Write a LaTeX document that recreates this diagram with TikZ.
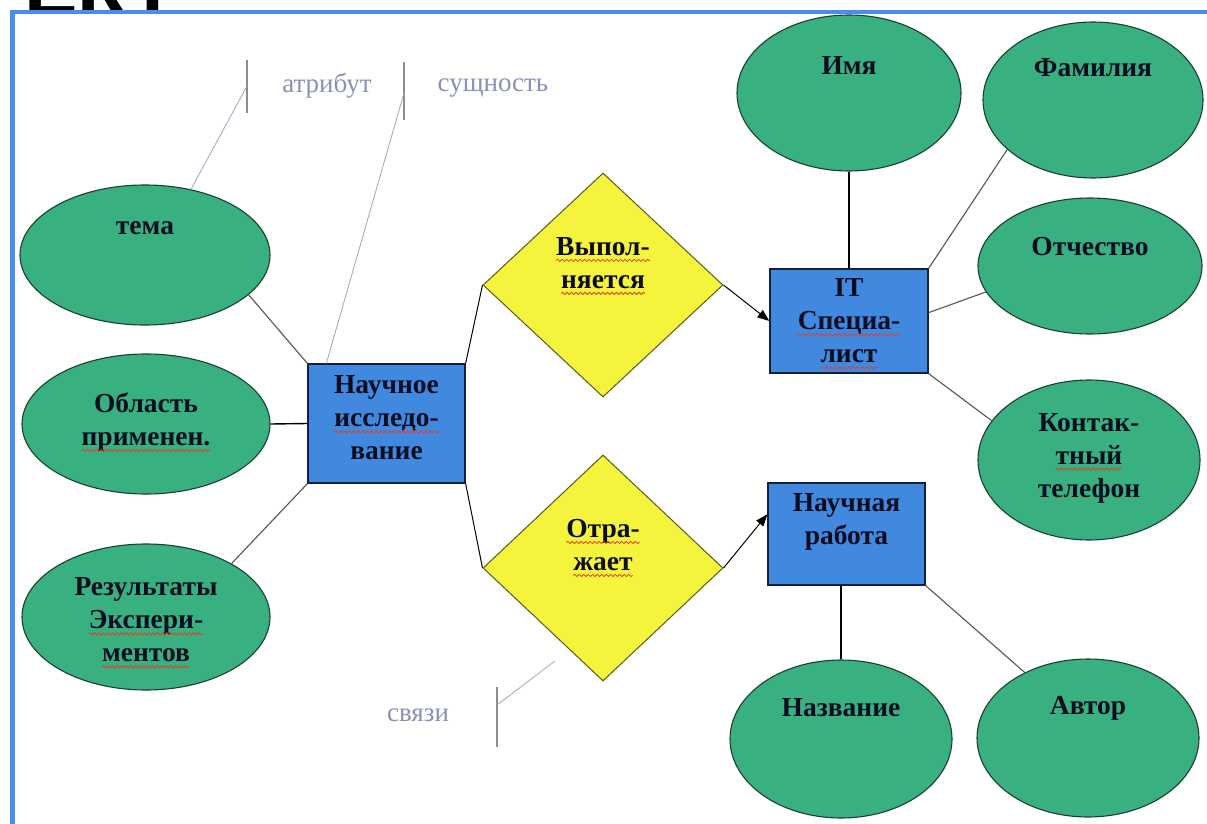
\documentclass[tikz,border=0pt]{standalone}
\usepackage{fontspec}
\setmainfont{Liberation Serif}
\newfontfamily\headfont{Liberation Sans}
\usetikzlibrary{shapes.geometric,arrows.meta,calc,decorations.pathmorphing}

\definecolor{attrgreen}{HTML}{38B080}
\definecolor{attrline}{HTML}{1C3F30}
\definecolor{entblue}{HTML}{4189DF}
\definecolor{entline}{HTML}{15203A}
\definecolor{relyellow}{HTML}{F4F43C}
\definecolor{relline}{HTML}{5A5A20}
\definecolor{txtdark}{HTML}{0D0D22}
\definecolor{framebl}{HTML}{4A8CF0}
\definecolor{linkgray}{HTML}{555555}
\definecolor{notecol}{HTML}{8A90B8}
\definecolor{leadcol}{HTML}{A0A6C4}
\definecolor{bargray}{HTML}{8C8C8C}
\definecolor{spellred}{HTML}{E0402A}

% red wavy underline under a word
\newsavebox\wavebox
\newcommand\spellwave[1]{%
  \sbox\wavebox{#1}%
  \rlap{\usebox\wavebox}%
  \tikz[baseline=0pt]{%
    \path[use as bounding box] (0pt,0pt) rectangle (\the\wd\wavebox,0.1pt);
    \draw[spellred, line width=0.8pt, decorate,
          decoration={snake, amplitude=1.1pt, segment length=4.5pt}]
      (0pt,-5pt) -- (\the\wd\wavebox,-5pt);}%
}

\tikzset{
  erattr/.style={ellipse, draw=attrline, line width=1.1pt, fill=attrgreen, inner sep=0pt},
  erent/.style={rectangle, draw=entline, line width=1.3pt, fill=entblue, inner sep=0pt},
  errel/.style={diamond, draw=relline, line width=1pt, fill=relyellow, inner sep=0pt},
  ertext/.style={font=\bfseries\fontsize{27.5}{33}\selectfont, text=txtdark, align=center, inner sep=0pt},
  ernote/.style={font=\fontsize{27}{30}\selectfont, text=notecol, inner sep=0pt},
  thinlink/.style={draw=linkgray, line width=1.1pt},
  boldlink/.style={draw=black, line width=1.4pt},
  arrlink/.style={draw=black, line width=1pt, -{Triangle[length=12pt,width=9pt]}},
  calloutbar/.style={draw=bargray, line width=1.5pt},
  leader/.style={draw=leadcol, line width=0.8pt}
}

\begin{document}
\begin{tikzpicture}[x=1pt,y=-1pt]
\useasboundingbox (0,0) rectangle (1207,824);
\fill[white] (0,0) rectangle (1207,824);

% heading letters cut by the top of the frame
\begin{scope}
  \clip (0,0) rectangle (1207,12);
  \node[anchor=base west, inner sep=0pt, font=\headfont\bfseries\fontsize{80}{80}\selectfont] (head) at (24,16) {ЕКТ};
\end{scope}

% frame
\draw[framebl, line width=4.5pt] (12.5,824) -- (12.5,12) -- (1207,12);

% attributes
\node[erattr, minimum width=250pt, minimum height=140pt] (tema) at (145,255) {};
\node[erattr, minimum width=248pt, minimum height=140pt] (obl)  at (146,424) {};
\node[erattr, minimum width=248pt, minimum height=146pt] (res)  at (146,617) {};
\node[erattr, minimum width=224pt, minimum height=156pt] (imya) at (849,93) {};
\node[erattr, minimum width=220pt, minimum height=156pt] (fam)  at (1093,100) {};
\node[erattr, minimum width=224pt, minimum height=136pt] (otch) at (1090,266) {};
\node[erattr, minimum width=222pt, minimum height=160pt] (kont) at (1089,460) {};
\node[erattr, minimum width=222pt, minimum height=158pt] (nazv) at (841,739) {};
\node[erattr, minimum width=222pt, minimum height=158pt] (avtor) at (1088,738) {};

% entities
\node[erent, minimum width=157pt, minimum height=119pt] (nauch)  at (386.5,423.5) {};
\node[erent, minimum width=158pt, minimum height=104pt] (it)     at (849,321) {};
\node[erent, minimum width=157pt, minimum height=102pt] (rabota) at (846.5,534) {};

% relationships
\node[errel, minimum width=240pt, minimum height=224pt] (vyp) at (603,285) {};
\node[errel, minimum width=240pt, minimum height=226pt] (otr) at (603,568) {};

% connectors
\draw[thinlink] (tema.-21) -- (nauch.north west);
\draw[boldlink] (obl.east) -- (nauch.west);
\draw[thinlink] (res.32) -- (nauch.south west);
\draw[draw=black, line width=1pt] (nauch.north east) -- (vyp.west);
\draw[draw=black, line width=1pt] (nauch.south east) -- (otr.west);
\draw[arrlink] (vyp.east) -- (it.west);
\draw[arrlink] (otr.east) -- (rabota.166);
\draw[boldlink] (imya.south) -- (it.north);
\draw[thinlink] (fam.210) -- (it.north east);
\draw[thinlink] (otch.194) -- (it.6);
\draw[thinlink] (kont.158) -- (it.south east);
\draw[boldlink] (nazv.north) -- (nazv.north |- rabota.south);
\draw[thinlink] (avtor.134) -- (rabota.south east);

% texts
\node[ertext] (tTema)  at (145,228) {тема};
\node[ertext] (tObl)   at (146,422) {Область\\\spellwave{применен.}};
\node[ertext] (tRes)   at (146,620) {Результаты\\\spellwave{Экспери-}\\\spellwave{ментов}};
\node[ertext] (tNauch) at (386.5,418) {Научное\\\spellwave{исследо-}\\вание};
\node[ertext] (tVyp)   at (603,263) {\spellwave{Выпол-}\\\spellwave{няется}};
\node[ertext] (tOtr)   at (603,545) {\spellwave{Отра-}\\\spellwave{жает}};
\node[ertext] (tIt)    at (849,321) {IT\\\spellwave{Специа-}\\\spellwave{лист}};
\node[ertext] (tRab)   at (846.5,522) {Научная\\работа};
\node[ertext] (tImya)  at (849,65) {Имя};
\node[ertext] (tFam)   at (1093,68) {Фамилия};
\node[ertext] (tOtch)  at (1090,247) {Отчество};
\node[ertext] (tKont)  at (1089,458) {Контак-\\\spellwave{тный}\\телефон};
\node[ertext] (tNazv)  at (841,708) {Название};
\node[ertext] (tAvt)   at (1088,708) {Автор};

% callouts
\coordinate (barA1) at (247,60);
\coordinate (barA2) at (247,113);
\coordinate (barAm) at (247,86);
\draw[calloutbar] (barA1) -- (barA2);
\draw[leader] (tema.55) -- (barAm);
\node[ernote] (nAttr) at (327,86) {атрибут};

\coordinate (barS1) at (404,62);
\coordinate (barS2) at (404,120);
\coordinate (barSm) at (404,93);
\draw[calloutbar] (barS1) -- (barS2);
\draw[leader] ($(nauch.north west)!0.12!(nauch.north east)$) -- (barSm);
\node[ernote] (nEnt) at (493,88) {сущность};

\coordinate (barL1) at (497,687);
\coordinate (barL2) at (497,747);
\coordinate (barLm) at (497,705);
\coordinate (leadL) at (555,661);
\draw[calloutbar] (barL1) -- (barL2);
\draw[leader] (leadL) -- (barLm);
\node[ernote] (nRel) at (418,715) {связи};
\end{tikzpicture}
\end{document}
